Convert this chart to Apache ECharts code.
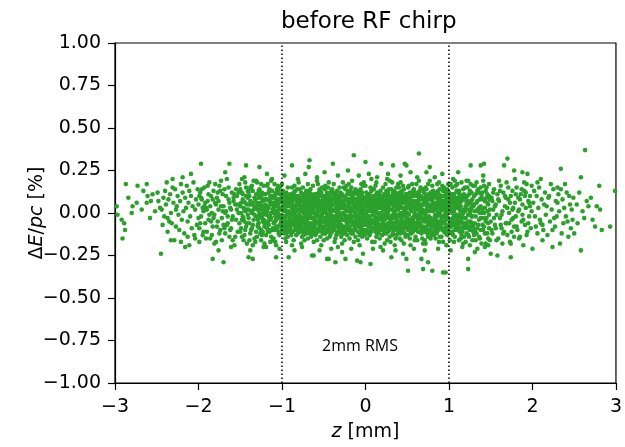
<!DOCTYPE html>
<html>
<head>
<meta charset="utf-8">
<script src="https://cdn.jsdelivr.net/npm/echarts@6/dist/echarts.min.js"></script>
<style>html,body{margin:0;padding:0;background:#fff}#chart{width:625px;height:447px}</style>
</head>
<body>
<div id="chart"></div>
<script>
// Chart values: flat lists of (z [mm], dE/pc [%]) pairs
const titleText = 'before RF chirp';
const xTicks = [-3, -2, -1, 0, 1, 2, 3];
const yTicks = [-1, -0.75, -0.5, -0.25, 0, 0.25, 0.5, 0.75, 1];
const rmsLines = [-1, 1];
const rmsLabel = '2mm RMS';

const tailFarLeft = [
-2.98,0.04, -2.87,0.17, -2.92,-0.04, -2.89,-0.06, -2.88,-0.10, -2.91,-0.15, -2.80,0.00, -2.79,0.04, -2.74,0.06, -2.73,0.16,
-2.62,0.17, -2.68,0.02, -2.62,0.06, -2.61,0.10, -2.55,0.11, -2.52,0.01, -2.97,-0.01, -2.84,0.09, -2.58,-0.03, -2.66,0.13, -2.57,0.07
];
const tailLeft = [
-2.49,0.12, -2.45,-0.24, -2.46,0.03, -2.44,0.02, -2.38,0.18, -2.37,-0.03, -2.35,-0.05, -2.37,-0.11, -2.33,-0.16, -2.29,-0.16,
-2.31,0.20, -2.27,0.02, -2.21,0.17, -2.19,0.21, -2.23,-0.10, -2.13,-0.14, -2.11,-0.19,
-2.48,0.07, -2.42,0.09, -2.41,-0.02, -2.40,0.13, -2.39,0.05, -2.36,0.08, -2.34,0.11, -2.33,0.00, -2.32,-0.06, -2.30,0.06,
-2.28,0.14, -2.27,-0.08, -2.26,0.04, -2.25,0.10, -2.24,-0.01, -2.22,0.07, -2.20,-0.04, -2.19,0.12, -2.18,0.01, -2.17,-0.12,
-2.16,0.09, -2.15,0.03, -2.14,0.16, -2.13,-0.05, -2.12,0.06, -2.11,0.13, -2.10,-0.02, -2.09,0.10, -2.08,-0.09, -2.07,0.04,
-2.06,0.18, -2.05,-0.13, -2.04,0.02, -2.03,0.08, -2.02,-0.07, -2.01,0.14, -2.00,-0.03, -2.43,-0.07, -2.21,-0.17, -2.09,0.23,
-2.16,-0.20, -2.31,0.15, -2.04,-0.15,
-2.00,0.05, -1.99,-0.09, -1.98,0.12, -1.97,-0.02, -1.96,0.08, -1.95,-0.13, -1.94,0.01, -1.93,0.15, -1.92,-0.06, -1.91,0.03,
-1.90,-0.11, -1.89,0.07, -1.88,-0.04, -1.87,0.18, -1.86,-0.15, -1.85,0.10, -1.84,0.00, -1.83,-0.08, -1.82,0.13, -1.81,-0.01,
-1.80,0.06, -1.79,-0.17, -1.78,0.09, -1.77,-0.05, -1.76,0.02, -1.75,0.16, -1.74,-0.10, -1.73,0.04, -1.72,-0.03, -1.71,0.11,
-1.70,-0.07, -1.69,0.14, -1.68,-0.12, -1.67,0.01, -1.66,0.20, -1.65,-0.06, -1.64,0.08, -1.63,-0.14, -1.62,0.03, -1.61,-0.09,
-1.60,0.12, -1.59,-0.02, -1.58,0.07, -1.57,-0.19, -1.56,0.05, -1.55,-0.04, -1.54,0.10, -1.53,-0.11, -1.52,0.00, -1.51,0.17,
-1.98,-0.06, -1.96,0.14, -1.94,-0.11, -1.92,0.06, -1.90,0.02, -1.88,0.11, -1.86,0.04, -1.84,-0.13, -1.82,-0.03, -1.80,0.17,
-1.78,-0.08, -1.76,0.07, -1.74,0.13, -1.72,-0.16, -1.70,0.04, -1.68,0.00, -1.66,-0.07, -1.64,0.15, -1.62,-0.10, -1.60,-0.04,
-1.58,0.09, -1.56,-0.14, -1.54,0.02, -1.52,0.12, -1.99,0.10, -1.95,0.03, -1.91,-0.15, -1.87,-0.01, -1.83,0.08, -1.79,0.05,
-1.75,-0.12, -1.71,0.01, -1.67,0.10, -1.63,0.06, -1.59,-0.16, -1.55,0.14, -1.51,-0.06, -1.53,0.05, -1.57,0.11, -1.61,0.02,
-1.65,-0.02, -1.69,-0.09, -1.73,0.19, -1.77,0.12, -1.81,-0.18, -1.85,-0.05, -1.89,0.16, -1.93,0.04, -1.97,0.09, -1.61,-0.20
];
const midLeft = [
-1.50,0.04, -1.49,-0.09, -1.48,0.12, -1.47,-0.02, -1.46,0.07, -1.45,-0.13, -1.44,0.01, -1.43,0.15, -1.42,-0.06, -1.41,0.09,
-1.50,-0.11, -1.49,0.06, -1.48,-0.04, -1.47,0.11, -1.46,-0.16, -1.45,0.02, -1.44,0.18, -1.43,-0.08, -1.42,0.05, -1.41,-0.01,
-1.50,0.14, -1.49,0.00, -1.48,-0.14, -1.47,0.08, -1.46,0.03, -1.45,-0.05, -1.44,-0.10, -1.43,0.10, -1.42,-0.18, -1.41,0.13,
-1.48,0.20, -1.46,-0.03, -1.44,0.06, -1.42,0.02,
-1.40,-0.03, -1.39,0.10, -1.38,-0.12, -1.37,0.05, -1.36,0.16, -1.35,-0.07, -1.34,0.02, -1.33,-0.15, -1.32,0.08, -1.31,-0.02,
-1.40,0.12, -1.39,-0.06, -1.38,0.07, -1.37,-0.10, -1.36,0.00, -1.35,0.13, -1.34,-0.04, -1.33,0.04, -1.32,-0.17, -1.31,0.11,
-1.40,0.02, -1.39,-0.16, -1.38,0.15, -1.37,0.01, -1.36,-0.09, -1.35,0.06, -1.34,0.19, -1.33,-0.01, -1.32,0.03, -1.31,-0.11,
-1.39,0.05, -1.37,0.14, -1.35,-0.19, -1.33,0.09,
-1.30,0.06, -1.29,-0.08, -1.28,0.13, -1.27,0.00, -1.26,-0.12, -1.25,0.09, -1.24,-0.03, -1.23,0.04, -1.22,0.16, -1.21,-0.06,
-1.30,-0.14, -1.29,0.11, -1.28,-0.02, -1.27,-0.09, -1.26,0.05, -1.25,-0.16, -1.24,0.12, -1.23,-0.11, -1.22,0.01, -1.21,0.08,
-1.30,0.18, -1.29,0.02, -1.28,-0.06, -1.27,0.14, -1.26,0.10, -1.25,0.03, -1.24,-0.13, -1.23,0.07, -1.22,-0.04, -1.21,-0.18,
-1.29,-0.04, -1.27,0.05, -1.25,0.17, -1.23,-0.01,
-1.20,-0.05, -1.19,0.08, -1.18,0.01, -1.17,-0.11, -1.16,0.12, -1.15,-0.03, -1.14,0.06, -1.13,-0.14, -1.12,0.10, -1.11,0.02,
-1.20,0.11, -1.19,-0.13, -1.18,0.16, -1.17,0.04, -1.16,-0.07, -1.15,0.14, -1.14,-0.01, -1.13,0.09, -1.12,-0.10, -1.11,-0.16,
-1.20,0.01, -1.19,0.03, -1.18,-0.09, -1.17,0.17, -1.16,-0.02, -1.15,0.07, -1.14,-0.17, -1.13,0.00, -1.12,0.13, -1.11,0.06,
-1.19,-0.20, -1.17,-0.05, -1.15,-0.10, -1.13,0.19,
-1.10,0.03, -1.09,-0.10, -1.08,0.09, -1.07,-0.04, -1.06,0.14, -1.05,0.00, -1.04,-0.12, -1.03,0.06, -1.02,-0.07, -1.01,0.11,
-1.10,-0.15, -1.09,0.05, -1.08,-0.02, -1.07,0.12, -1.06,-0.09, -1.05,0.16, -1.04,0.02, -1.03,-0.13, -1.02,0.08, -1.01,-0.03,
-1.10,0.10, -1.09,0.17, -1.08,-0.17, -1.07,0.01, -1.06,0.04, -1.05,-0.08, -1.04,0.13, -1.03,-0.01, -1.02,-0.11, -1.01,0.07,
-1.09,-0.05, -1.07,-0.19, -1.05,0.06, -1.03,0.15
];
const coreLeft = [
-1.00,0.03, -0.99,-0.08, -0.98,0.11, -0.97,-0.02, -0.96,0.06, -0.95,-0.12, -0.94,0.00, -0.93,0.15, -0.92,-0.05, -0.91,0.08,
-1.00,-0.04, -0.99,0.10, -0.98,-0.10, -0.97,0.03, -0.96,-0.03, -0.95,0.12, -0.94,0.05, -0.93,-0.14, -0.92,0.01, -0.91,-0.07,
-1.00,0.17, -0.99,-0.06, -0.98,0.07, -0.97,-0.09, -0.96,0.02, -0.95,-0.17, -0.94,0.09, -0.93,-0.01, -0.92,0.04, -0.91,-0.03,
-0.99,0.13, -0.97,-0.12, -0.95,0.04, -0.94,-0.07, -0.92,-0.11, -0.98,0.01, -0.96,-0.15, -0.93,0.07,
-0.90,-0.06, -0.89,0.04, -0.88,-0.11, -0.87,0.09, -0.86,0.00, -0.85,-0.03, -0.84,0.13, -0.83,-0.08, -0.82,0.06, -0.81,0.02,
-0.90,0.11, -0.89,-0.13, -0.88,0.03, -0.87,-0.01, -0.86,0.08, -0.85,0.16, -0.84,-0.05, -0.83,0.05, -0.82,-0.10, -0.81,-0.02,
-0.90,-0.02, -0.89,0.07, -0.88,0.15, -0.87,-0.07, -0.86,-0.16, -0.85,0.04, -0.84,0.01, -0.83,0.10, -0.82,-0.04, -0.81,-0.12,
-0.88,-0.19, -0.86,0.12, -0.84,-0.09, -0.82,0.14, -0.89,0.00, -0.85,-0.06, -0.83,-0.13, -0.81,0.08,
-0.80,0.05, -0.79,-0.10, -0.78,0.01, -0.77,0.12, -0.76,-0.04, -0.75,0.07, -0.74,-0.13, -0.73,0.03, -0.72,-0.07, -0.71,0.10,
-0.80,-0.01, -0.79,0.14, -0.78,-0.06, -0.77,0.04, -0.76,0.09, -0.75,-0.11, -0.74,0.00, -0.73,-0.16, -0.72,0.06, -0.71,-0.03,
-0.80,0.18, -0.79,0.02, -0.78,0.08, -0.77,-0.08, -0.76,-0.14, -0.75,0.15, -0.74,0.05, -0.73,-0.02, -0.72,0.11, -0.71,-0.09,
-0.79,-0.05, -0.77,-0.18, -0.76,0.01, -0.74,0.09, -0.72,-0.12, -0.78,-0.02, -0.75,0.03, -0.71,0.13,
-0.70,-0.09, -0.69,0.06, -0.68,-0.02, -0.67,0.13, -0.66,-0.07, -0.65,0.02, -0.64,0.10, -0.63,-0.12, -0.62,0.04, -0.61,-0.04,
-0.70,0.08, -0.69,-0.15, -0.68,0.12, -0.67,0.00, -0.66,0.05, -0.65,-0.09, -0.64,-0.03, -0.63,0.16, -0.62,-0.06, -0.61,0.09,
-0.70,0.01, -0.69,-0.01, -0.68,-0.11, -0.67,0.07, -0.66,0.14, -0.65,-0.14, -0.64,0.03, -0.63,0.06, -0.62,-0.17, -0.61,0.11,
-0.69,0.17, -0.67,-0.08, -0.66,-0.01, -0.65,0.11, -0.63,0.00, -0.68,0.05, -0.64,-0.10, -0.62,0.08,
-0.60,0.04, -0.59,-0.06, -0.58,0.09, -0.57,-0.11, -0.56,0.01, -0.55,0.14, -0.54,-0.03, -0.53,0.07, -0.52,-0.08, -0.51,0.00,
-0.60,-0.13, -0.59,0.11, -0.58,-0.01, -0.57,0.05, -0.56,-0.09, -0.55,0.03, -0.54,0.12, -0.53,-0.05, -0.52,0.15, -0.51,-0.12,
-0.60,0.07, -0.59,0.00, -0.58,-0.16, -0.57,0.17, -0.56,0.06, -0.55,-0.04, -0.54,-0.14, -0.53,0.10, -0.52,0.02, -0.51,0.08,
-0.59,-0.10, -0.57,0.02, -0.56,0.12, -0.54,0.05, -0.52,-0.02, -0.58,0.19, -0.55,-0.07, -0.53,-0.19,
-0.50,-0.05, -0.49,0.08, -0.48,0.01, -0.47,-0.10, -0.46,0.12, -0.45,-0.02, -0.44,0.05, -0.43,-0.14, -0.42,0.09, -0.41,-0.07,
-0.50,0.10, -0.49,-0.03, -0.48,-0.12, -0.47,0.04, -0.46,-0.06, -0.45,0.15, -0.44,-0.09, -0.43,0.02, -0.42,-0.01, -0.41,0.13,
-0.50,-0.16, -0.49,0.14, -0.48,0.06, -0.47,0.00, -0.46,0.03, -0.45,-0.11, -0.44,0.18, -0.43,0.07, -0.42,-0.13, -0.41,0.02,
-0.49,-0.08, -0.48,0.16, -0.46,-0.15, -0.45,0.06, -0.43,-0.04, -0.47,0.10, -0.44,-0.01, -0.42,0.04,
-0.40,0.02, -0.39,-0.09, -0.38,0.12, -0.37,-0.04, -0.36,0.06, -0.35,-0.13, -0.34,0.00, -0.33,0.09, -0.32,-0.06, -0.31,0.15,
-0.40,-0.11, -0.39,0.05, -0.38,-0.02, -0.37,0.10, -0.36,-0.15, -0.35,0.03, -0.34,0.13, -0.33,-0.08, -0.32,0.07, -0.31,-0.01,
-0.40,0.14, -0.39,0.01, -0.38,-0.07, -0.37,-0.17, -0.36,0.11, -0.35,0.08, -0.34,-0.05, -0.33,0.04, -0.32,-0.12, -0.31,0.06,
-0.39,-0.03, -0.38,0.17, -0.36,-0.08, -0.35,-0.02, -0.34,0.09, -0.33,-0.20, -0.32,0.02, -0.40,-0.06,
-0.30,-0.07, -0.29,0.10, -0.28,0.03, -0.27,-0.12, -0.26,0.07, -0.25,-0.01, -0.24,0.14, -0.23,-0.05, -0.22,0.01, -0.21,-0.10,
-0.30,0.05, -0.29,-0.14, -0.28,0.11, -0.27,0.00, -0.26,-0.04, -0.25,0.09, -0.24,-0.08, -0.23,0.16, -0.22,-0.13, -0.21,0.04,
-0.30,0.12, -0.29,-0.02, -0.28,-0.09, -0.27,0.06, -0.26,0.15, -0.25,-0.16, -0.24,0.02, -0.23,-0.03, -0.22,0.08, -0.21,0.13,
-0.29,0.04, -0.28,-0.18, -0.27,0.18, -0.26,-0.10, -0.24,-0.03, -0.23,0.08, -0.22,-0.06, -0.30,-0.02,
-0.20,0.06, -0.19,-0.03, -0.18,0.13, -0.17,-0.10, -0.16,0.02, -0.15,0.09, -0.14,-0.07, -0.13,0.04, -0.12,-0.14, -0.11,0.11,
-0.20,-0.09, -0.19,0.08, -0.18,-0.01, -0.17,0.15, -0.16,-0.05, -0.15,-0.12, -0.14,0.05, -0.13,0.12, -0.12,0.00, -0.11,-0.04,
-0.20,0.17, -0.19,-0.15, -0.18,0.03, -0.17,0.07, -0.16,0.10, -0.15,0.01, -0.14,-0.17, -0.13,-0.08, -0.12,0.14, -0.11,-0.01,
-0.19,0.01, -0.18,-0.11, -0.17,-0.04, -0.16,0.19, -0.14,0.08, -0.13,-0.02, -0.12,-0.07, -0.11,0.05,
-0.10,-0.02, -0.09,0.11, -0.08,-0.08, -0.07,0.04, -0.06,0.14, -0.05,-0.11, -0.04,0.01, -0.03,0.07, -0.02,-0.05, -0.01,0.09,
-0.10,0.13, -0.09,-0.06, -0.08,0.05, -0.07,-0.13, -0.06,0.00, -0.05,0.08, -0.04,-0.03, -0.03,0.16, -0.02,0.03, -0.01,-0.10,
-0.10,0.03, -0.09,-0.16, -0.08,0.12, -0.07,0.10, -0.06,-0.09, -0.05,0.02, -0.04,-0.14, -0.03,-0.01, -0.02,0.18, -0.01,0.06,
-0.09,0.02, -0.08,-0.04, -0.07,-0.19, -0.06,0.07, -0.05,0.17, -0.04,0.10, -0.03,-0.07, -0.02,-0.12
];
const coreRight = [
0.00,0.04, 0.01,-0.07, 0.02,0.10, 0.03,-0.02, 0.04,0.07, 0.05,-0.13, 0.06,0.01, 0.07,0.13, 0.08,-0.05, 0.09,0.03,
0.00,-0.10, 0.01,0.12, 0.02,-0.03, 0.03,0.06, 0.04,-0.08, 0.05,0.02, 0.06,0.15, 0.07,-0.11, 0.08,0.08, 0.09,-0.01,
0.00,0.16, 0.01,0.00, 0.02,-0.15, 0.03,0.09, 0.04,0.03, 0.05,0.11, 0.06,-0.06, 0.07,0.05, 0.08,-0.17, 0.09,0.14,
0.01,-0.04, 0.02,0.05, 0.03,-0.12, 0.05,-0.06, 0.06,-0.10, 0.07,0.20, 0.08,0.01, 0.09,-0.09,
0.10,-0.06, 0.11,0.08, 0.12,-0.11, 0.13,0.02, 0.14,0.12, 0.15,-0.03, 0.16,0.06, 0.17,-0.09, 0.18,0.00, 0.19,0.10,
0.10,0.14, 0.11,-0.02, 0.12,0.04, 0.13,-0.14, 0.14,-0.05, 0.15,0.09, 0.16,-0.12, 0.17,0.03, 0.18,0.13, 0.19,-0.07,
0.10,0.01, 0.11,-0.17, 0.12,0.16, 0.13,0.07, 0.14,0.00, 0.15,-0.08, 0.16,0.11, 0.17,-0.15, 0.18,0.05, 0.19,-0.01,
0.11,0.05, 0.12,-0.04, 0.13,0.18, 0.14,-0.10, 0.16,-0.02, 0.17,0.08, 0.18,-0.20, 0.19,0.04,
0.20,0.03, 0.21,-0.09, 0.22,0.11, 0.23,-0.04, 0.24,0.05, 0.25,-0.12, 0.26,0.08, 0.27,0.00, 0.28,0.14, 0.29,-0.06,
0.20,-0.13, 0.21,0.06, 0.22,-0.01, 0.23,0.10, 0.24,-0.07, 0.25,0.02, 0.26,-0.16, 0.27,0.12, 0.28,-0.03, 0.29,0.07,
0.20,0.09, 0.21,0.15, 0.22,-0.10, 0.23,0.01, 0.24,0.17, 0.25,0.06, 0.26,-0.02, 0.27,-0.11, 0.28,0.04, 0.29,-0.14,
0.20,-0.03, 0.22,0.03, 0.23,-0.18, 0.24,-0.01, 0.25,0.13, 0.26,0.04, 0.27,-0.06, 0.29,0.19,
0.30,-0.04, 0.31,0.07, 0.32,-0.13, 0.33,0.12, 0.34,0.00, 0.35,-0.07, 0.36,0.04, 0.37,0.15, 0.38,-0.10, 0.39,0.02,
0.30,0.10, 0.31,-0.02, 0.32,0.06, 0.33,-0.09, 0.34,0.13, 0.35,0.01, 0.36,-0.15, 0.37,-0.04, 0.38,0.08, 0.39,-0.12,
0.30,-0.17, 0.31,0.14, 0.32,0.02, 0.33,-0.01, 0.34,-0.06, 0.35,0.11, 0.36,0.09, 0.37,-0.13, 0.38,-0.01, 0.39,0.17,
0.31,-0.08, 0.32,0.18, 0.33,0.05, 0.35,-0.19, 0.36,-0.02, 0.37,0.06, 0.38,0.11, 0.39,-0.05,
0.40,0.05, 0.41,-0.10, 0.42,0.09, 0.43,-0.03, 0.44,0.13, 0.45,-0.06, 0.46,0.01, 0.47,0.10, 0.48,-0.14, 0.49,0.04,
0.40,-0.08, 0.41,0.03, 0.42,-0.12, 0.43,0.07, 0.44,-0.01, 0.45,0.16, 0.46,-0.05, 0.47,0.02, 0.48,0.11, 0.49,-0.09,
0.40,0.15, 0.41,0.12, 0.42,0.00, 0.43,-0.16, 0.44,0.06, 0.45,-0.02, 0.46,0.14, 0.47,-0.08, 0.48,0.03, 0.49,0.08,
0.40,-0.02, 0.41,-0.15, 0.42,0.18, 0.44,-0.11, 0.45,0.08, 0.46,-0.18, 0.47,-0.01, 0.48,0.07,
0.50,-0.03, 0.51,0.08, 0.52,-0.08, 0.53,0.12, 0.54,0.02, 0.55,-0.12, 0.56,0.06, 0.57,-0.04, 0.58,0.14, 0.59,0.00,
0.50,0.11, 0.51,-0.05, 0.52,0.04, 0.53,-0.15, 0.54,0.09, 0.55,0.01, 0.56,-0.09, 0.57,0.13, 0.58,-0.02, 0.59,0.07,
0.50,0.00, 0.51,-0.13, 0.52,0.16, 0.53,0.05, 0.54,-0.07, 0.55,0.10, 0.56,0.17, 0.57,-0.11, 0.58,0.04, 0.59,-0.16,
0.50,0.06, 0.51,0.15, 0.52,-0.01, 0.54,-0.19, 0.55,-0.05, 0.57,0.03, 0.58,-0.10, 0.59,0.12,
0.60,0.07, 0.61,-0.06, 0.62,0.10, 0.63,-0.11, 0.64,0.03, 0.65,0.13, 0.66,-0.02, 0.67,0.05, 0.68,-0.09, 0.69,0.01,
0.60,-0.14, 0.61,0.11, 0.62,-0.03, 0.63,0.06, 0.64,-0.08, 0.65,0.00, 0.66,0.15, 0.67,-0.12, 0.68,0.08, 0.69,-0.04,
0.60,0.02, 0.61,0.17, 0.62,-0.16, 0.63,0.12, 0.64,0.09, 0.65,-0.06, 0.66,0.04, 0.67,-0.01, 0.68,-0.15, 0.69,0.14,
0.61,-0.01, 0.62,0.05, 0.63,-0.05, 0.64,0.19, 0.66,-0.11, 0.67,0.09, 0.68,0.02, 0.69,-0.18,
0.70,-0.05, 0.71,0.09, 0.72,-0.01, 0.73,0.14, 0.74,-0.10, 0.75,0.04, 0.76,0.11, 0.77,-0.07, 0.78,0.02, 0.79,-0.13,
0.70,0.12, 0.71,-0.03, 0.72,0.07, 0.73,-0.09, 0.74,0.01, 0.75,-0.14, 0.76,0.05, 0.77,0.10, 0.78,-0.06, 0.79,0.03,
0.70,0.00, 0.71,-0.16, 0.72,0.15, 0.73,0.06, 0.74,-0.04, 0.75,0.17, 0.76,-0.11, 0.77,0.01, 0.78,0.12, 0.79,0.08,
0.70,-0.10, 0.72,-0.18, 0.73,0.02, 0.74,0.08, 0.76,-0.02, 0.77,0.19, 0.78,-0.15, 0.79,-0.04,
0.80,0.03, 0.81,-0.08, 0.82,0.12, 0.83,-0.02, 0.84,0.06, 0.85,-0.12, 0.86,0.09, 0.87,0.00, 0.88,-0.05, 0.89,0.14,
0.80,-0.11, 0.81,0.05, 0.82,-0.04, 0.83,0.10, 0.84,-0.15, 0.85,0.02, 0.86,-0.08, 0.87,0.13, 0.88,0.07, 0.89,-0.01,
0.80,0.16, 0.81,0.01, 0.82,-0.13, 0.83,0.04, 0.84,0.11, 0.85,-0.06, 0.86,0.17, 0.87,-0.10, 0.88,-0.17, 0.89,0.06,
0.81,0.13, 0.82,0.02, 0.83,-0.07, 0.84,-0.01, 0.86,-0.02, 0.87,0.08, 0.88,0.18, 0.89,-0.14,
0.90,-0.06, 0.91,0.10, 0.92,-0.02, 0.93,0.05, 0.94,-0.11, 0.95,0.13, 0.96,0.01, 0.97,-0.08, 0.98,0.08, 0.99,-0.03,
0.90,0.09, 0.91,-0.14, 0.92,0.04, 0.93,-0.06, 0.94,0.15, 0.95,-0.01, 0.96,-0.12, 0.97,0.11, 0.98,0.00, 0.99,0.06,
0.90,0.01, 0.91,0.03, 0.92,0.16, 0.93,-0.17, 0.94,0.07, 0.95,-0.09, 0.96,0.12, 0.97,0.02, 0.98,-0.13, 0.99,0.17,
0.91,-0.05, 0.92,-0.10, 0.93,0.13, 0.95,0.06, 0.96,-0.04, 0.97,-0.19, 0.98,0.14, 0.99,-0.09
];
const coreDense = [
-0.90,0.05, -0.90,-0.09, -0.89,0.10, -0.89,-0.04, -0.88,0.06, -0.88,-0.07, -0.87,0.02, -0.87,-0.11, -0.86,0.11, -0.86,-0.05,
-0.85,0.08, -0.85,-0.01, -0.84,0.03, -0.84,-0.10, -0.83,0.01, -0.83,-0.04, -0.82,0.09, -0.82,-0.08, -0.81,0.05, -0.81,-0.06,
-0.80,0.10, -0.80,-0.08, -0.79,0.06, -0.79,-0.02, -0.78,0.04, -0.78,-0.11, -0.77,0.08, -0.77,-0.04, -0.76,0.03, -0.76,-0.09,
-0.75,0.11, -0.75,-0.06, -0.74,0.02, -0.74,-0.03, -0.73,0.07, -0.73,-0.10, -0.72,0.00, -0.72,-0.05, -0.71,0.05, -0.71,-0.12,
-0.70,0.11, -0.70,-0.04, -0.69,0.03, -0.69,-0.08, -0.68,0.09, -0.68,-0.06, -0.67,0.04, -0.67,-0.12, -0.66,0.09, -0.66,-0.03,
-0.65,0.07, -0.65,-0.06, -0.64,0.01, -0.64,-0.07, -0.63,0.10, -0.63,-0.03, -0.62,0.02, -0.62,-0.10, -0.61,0.06, -0.61,-0.08,
-0.60,0.10, -0.60,-0.02, -0.59,0.06, -0.59,-0.12, -0.58,0.04, -0.58,-0.05, -0.57,0.08, -0.57,-0.02, -0.56,0.10, -0.56,-0.06,
-0.55,0.07, -0.55,-0.10, -0.54,0.02, -0.54,-0.07, -0.53,0.12, -0.53,-0.01, -0.52,0.05, -0.52,-0.11, -0.51,0.10, -0.51,-0.05,
-0.50,0.04, -0.50,-0.09, -0.49,0.02, -0.49,-0.12, -0.48,0.10, -0.48,-0.04, -0.47,0.07, -0.47,-0.06, -0.46,0.08, -0.46,-0.01,
-0.45,0.03, -0.45,-0.07, -0.44,0.11, -0.44,-0.04, -0.43,0.09, -0.43,-0.10, -0.42,0.01, -0.42,-0.06, -0.41,0.06, -0.41,-0.11,
-0.40,0.08, -0.40,-0.02, -0.39,0.11, -0.39,-0.05, -0.38,0.05, -0.38,-0.10, -0.37,0.02, -0.37,-0.07, -0.36,0.08, -0.36,-0.03,
-0.35,0.11, -0.35,-0.08, -0.34,0.06, -0.34,-0.11, -0.33,0.01, -0.33,-0.03, -0.32,0.10, -0.32,-0.09, -0.31,0.03, -0.31,-0.05,
-0.30,0.08, -0.30,-0.11, -0.29,0.06, -0.29,-0.07, -0.28,0.00, -0.28,-0.04, -0.27,0.10, -0.27,-0.08, -0.26,0.03, -0.26,-0.12,
-0.25,0.05, -0.25,-0.04, -0.24,0.09, -0.24,-0.11, -0.23,0.02, -0.23,-0.09, -0.22,0.11, -0.22,-0.02, -0.21,0.07, -0.21,-0.06,
-0.20,0.11, -0.20,-0.05, -0.19,0.04, -0.19,-0.08, -0.18,0.07, -0.18,-0.05, -0.17,0.01, -0.17,-0.12, -0.16,0.06, -0.16,-0.02,
-0.15,0.12, -0.15,-0.07, -0.14,0.02, -0.14,-0.10, -0.13,0.08, -0.13,-0.05, -0.12,0.05, -0.12,-0.10, -0.11,0.08, -0.11,-0.08,
-0.10,0.07, -0.10,-0.07, -0.09,0.05, -0.09,-0.11, -0.08,0.09, -0.08,-0.02, -0.07,0.01, -0.07,-0.06, -0.06,0.10, -0.06,-0.04,
-0.05,0.05, -0.05,-0.08, -0.04,0.12, -0.04,-0.06, -0.03,0.03, -0.03,-0.10, -0.02,0.09, -0.02,-0.02, -0.01,0.02, -0.01,-0.13,
0.00,0.08, 0.00,-0.05, 0.01,0.06, 0.01,-0.10, 0.02,0.01, 0.02,-0.07, 0.03,0.11, 0.03,-0.05, 0.04,0.10, 0.04,-0.11,
0.05,0.07, 0.05,-0.02, 0.06,0.04, 0.06,-0.08, 0.07,0.09, 0.07,-0.04, 0.08,0.03, 0.08,-0.09, 0.09,0.07, 0.09,-0.05,
0.10,0.10, 0.10,-0.09, 0.11,0.03, 0.11,-0.05, 0.12,0.08, 0.12,-0.07, 0.13,0.11, 0.13,-0.04, 0.14,0.05, 0.14,-0.12,
0.15,0.03, 0.15,-0.06, 0.16,0.09, 0.16,-0.07, 0.17,0.06, 0.17,-0.03, 0.18,0.09, 0.18,-0.10, 0.19,0.07, 0.19,-0.04,
0.20,0.06, 0.20,-0.07, 0.21,0.02, 0.21,-0.05, 0.22,0.07, 0.22,-0.12, 0.23,0.05, 0.23,-0.08, 0.24,0.11, 0.24,-0.03,
0.25,0.09, 0.25,-0.07, 0.26,0.11, 0.26,-0.09, 0.27,0.05, 0.27,-0.02, 0.28,0.09, 0.28,-0.08, 0.29,0.02, 0.29,-0.10,
0.30,0.06, 0.30,-0.09, 0.31,0.10, 0.31,-0.05, 0.32,0.09, 0.32,-0.03, 0.33,0.08, 0.33,-0.12, 0.34,0.04, 0.34,-0.10,
0.35,0.07, 0.35,-0.03, 0.36,0.12, 0.36,-0.07, 0.37,0.02, 0.37,-0.09, 0.38,0.05, 0.38,-0.05, 0.39,0.09, 0.39,-0.08,
0.40,0.10, 0.40,-0.05, 0.41,0.07, 0.41,-0.06, 0.42,0.04, 0.42,-0.08, 0.43,0.11, 0.43,-0.09, 0.44,0.09, 0.44,-0.05,
0.45,0.03, 0.45,-0.11, 0.46,0.07, 0.46,-0.09, 0.47,0.06, 0.47,-0.12, 0.48,0.01, 0.48,-0.06, 0.49,0.11, 0.49,-0.04,
0.50,0.09, 0.50,-0.08, 0.51,0.03, 0.51,-0.10, 0.52,0.08, 0.52,-0.04, 0.53,0.09, 0.53,-0.06, 0.54,0.05, 0.54,-0.11,
0.55,0.06, 0.55,-0.08, 0.56,0.11, 0.56,-0.03, 0.57,0.07, 0.57,-0.07, 0.58,0.10, 0.58,-0.06, 0.59,0.04, 0.59,-0.09,
0.60,0.11, 0.60,-0.06, 0.61,0.05, 0.61,-0.10, 0.62,0.07, 0.62,-0.08, 0.63,0.02, 0.63,-0.02, 0.64,0.12, 0.64,-0.11,
0.65,0.08, 0.65,-0.03, 0.66,0.10, 0.66,-0.07, 0.67,0.02, 0.67,-0.09, 0.68,0.05, 0.68,-0.04, 0.69,0.09, 0.69,-0.10,
0.70,0.05, 0.70,-0.08, 0.71,0.06, 0.71,-0.11, 0.72,0.11, 0.72,-0.05, 0.73,0.09, 0.73,-0.03, 0.74,0.04, 0.74,-0.12,
0.75,0.09, 0.75,-0.07, 0.76,0.08, 0.76,-0.05, 0.77,0.04, 0.77,-0.10, 0.78,0.09, 0.78,-0.03, 0.79,0.11, 0.79,-0.08,
0.80,0.07, 0.80,-0.05, 0.81,0.09, 0.81,-0.11, 0.82,0.05, 0.82,-0.07, 0.83,0.12, 0.83,-0.10, 0.84,0.02, 0.84,-0.04,
0.85,0.09, 0.85,-0.09, 0.86,0.05, 0.86,-0.11, 0.87,0.04, 0.87,-0.06, 0.88,0.11, 0.88,-0.09, 0.89,0.03, 0.89,-0.07
];
const coreEdges = [
-1.30,0.04, -1.29,-0.07, -1.28,0.09, -1.27,-0.02, -1.26,0.06, -1.25,-0.10, -1.24,0.02, -1.23,-0.05, -1.22,0.11, -1.21,-0.08,
-1.20,0.05, -1.19,-0.01, -1.18,0.08, -1.17,-0.06, -1.16,0.03, -1.15,-0.11, -1.14,0.10, -1.13,-0.03, -1.12,0.06, -1.11,-0.09,
-1.10,0.01, -1.09,0.09, -1.08,-0.05, -1.07,0.07, -1.06,-0.10, -1.05,0.04, -1.04,-0.02, -1.03,0.11, -1.02,-0.07, -1.01,0.02,
-1.00,-0.09, -0.99,0.06, -0.98,-0.04, -0.97,0.10, -0.96,-0.11, -0.95,0.01, -0.94,-0.06, -0.93,0.09, -0.92,-0.01, -0.91,0.05,
-1.15,0.07, -1.14,-0.04, -1.13,0.05, -1.12,-0.10, -1.11,0.09, -1.10,-0.06, -1.09,0.00, -1.08,0.11, -1.07,-0.08, -1.06,0.06,
-1.05,-0.03, -1.04,0.08, -1.03,-0.11, -1.02,0.03, -1.01,-0.05, -1.00,0.10, -0.99,-0.02, -0.98,0.04, -0.97,-0.07, -0.96,0.08,
-0.95,-0.05, -0.94,0.11, -0.93,-0.09, -0.92,0.07, -0.91,-0.10,
0.90,0.06, 0.91,-0.03, 0.92,0.10, 0.93,-0.10, 0.94,0.02, 0.95,-0.06, 0.96,0.08, 0.97,-0.01, 0.98,0.05, 0.99,-0.11,
1.00,0.08, 1.01,-0.05, 1.02,0.02, 1.03,-0.08, 1.04,0.11, 1.05,-0.03, 1.06,0.06, 1.07,-0.10, 1.08,0.03, 1.09,-0.06,
1.10,0.09, 1.11,-0.01, 1.12,0.07, 1.13,-0.11, 1.14,0.01, 1.15,-0.05, 1.16,0.08, 1.17,-0.08, 1.18,0.11, 1.19,-0.03,
1.20,0.04, 1.21,-0.07, 1.22,0.10, 1.23,-0.05, 1.24,0.02, 1.25,-0.10, 1.26,0.07, 1.27,-0.02, 1.28,0.05, 1.29,-0.08,
0.90,-0.08, 0.91,0.07, 0.92,-0.05, 0.93,0.10, 0.94,-0.09, 0.95,0.04, 0.96,-0.02, 0.97,0.09, 0.98,-0.10, 0.99,0.03,
1.00,-0.07, 1.01,0.11, 1.02,-0.04, 1.03,0.06, 1.04,-0.11, 1.05,0.07, 1.06,-0.02, 1.07,0.09, 1.08,-0.08, 1.09,0.04,
1.10,-0.04, 1.11,0.08, 1.12,-0.09, 1.13,0.02, 1.14,-0.06
];
const midRight = [
1.00,-0.04, 1.01,0.09, 1.02,-0.11, 1.03,0.03, 1.04,0.15, 1.05,-0.06, 1.06,0.01, 1.07,-0.14, 1.08,0.07, 1.09,-0.01,
1.00,0.12, 1.01,-0.08, 1.02,0.05, 1.03,-0.12, 1.04,0.00, 1.05,0.10, 1.06,-0.17, 1.07,0.04, 1.08,-0.05, 1.09,0.13,
1.00,0.01, 1.01,-0.16, 1.02,0.17, 1.03,0.08, 1.04,-0.07, 1.05,0.02, 1.06,0.11, 1.07,-0.02, 1.08,0.16, 1.09,-0.10,
1.01,0.05, 1.03,-0.04, 1.05,-0.13, 1.07,0.19,
1.10,0.06, 1.11,-0.07, 1.12,0.13, 1.13,-0.02, 1.14,0.04, 1.15,-0.13, 1.16,0.10, 1.17,0.00, 1.18,-0.09, 1.19,0.15,
1.10,-0.10, 1.11,0.03, 1.12,-0.05, 1.13,0.11, 1.14,-0.15, 1.15,0.07, 1.16,-0.01, 1.17,0.14, 1.18,0.02, 1.19,-0.06,
1.10,0.17, 1.11,0.12, 1.12,-0.16, 1.13,0.05, 1.14,0.09, 1.15,-0.03, 1.16,-0.11, 1.17,-0.18, 1.18,0.08, 1.19,0.01,
1.11,-0.02, 1.13,-0.09, 1.15,0.18, 1.18,-0.14,
1.20,-0.03, 1.21,0.10, 1.22,-0.09, 1.23,0.05, 1.24,-0.14, 1.25,0.13, 1.26,0.01, 1.27,-0.06, 1.28,0.08, 1.29,-0.11,
1.20,0.09, 1.21,-0.12, 1.22,0.15, 1.23,-0.01, 1.24,0.06, 1.25,-0.08, 1.26,0.17, 1.27,0.03, 1.28,-0.16, 1.29,0.04,
1.20,-0.17, 1.21,0.02, 1.22,0.07, 1.23,-0.13, 1.24,0.11, 1.25,0.00, 1.26,-0.05, 1.27,0.12, 1.28,-0.02, 1.29,0.16,
1.21,0.06, 1.23,0.19, 1.25,-0.19, 1.27,-0.09,
1.30,0.05, 1.31,-0.06, 1.32,0.11, 1.33,-0.12, 1.34,0.02, 1.35,0.14, 1.36,-0.04, 1.37,0.08, 1.38,-0.10, 1.39,0.00,
1.30,-0.13, 1.31,0.16, 1.32,-0.02, 1.33,0.06, 1.34,-0.09, 1.35,0.01, 1.36,0.12, 1.37,-0.15, 1.38,0.04, 1.39,0.10,
1.30,0.10, 1.31,0.01, 1.32,-0.16, 1.33,0.18, 1.34,0.07, 1.35,-0.07, 1.36,0.03, 1.37,0.00, 1.38,0.15, 1.39,-0.18,
1.31,-0.10, 1.34,0.13, 1.36,-0.14, 1.38,-0.03,
1.40,-0.07, 1.41,0.08, 1.42,0.00, 1.43,-0.12, 1.44,0.13, 1.45,-0.03, 1.46,0.06, 1.47,-0.15, 1.48,0.10, 1.49,0.02,
1.40,0.12, 1.41,-0.10, 1.42,0.16, 1.43,0.03, 1.44,-0.05, 1.45,0.09, 1.46,-0.12, 1.47,0.05, 1.48,-0.01, 1.49,-0.16,
1.40,0.02, 1.41,0.19, 1.42,-0.08, 1.43,0.07, 1.44,-0.18, 1.45,0.15, 1.46,0.01, 1.47,-0.06, 1.48,0.17, 1.49,0.08,
1.41,-0.03, 1.43,-0.20, 1.46,0.11, 1.48,-0.09
];
const tailRight = [
1.50,-0.05, 1.51,0.09, 1.52,-0.12, 1.53,0.02, 1.54,0.14, 1.55,-0.07, 1.56,0.05, 1.57,-0.01, 1.58,0.11, 1.59,-0.15,
1.60,0.07, 1.61,-0.03, 1.62,0.16, 1.63,-0.09, 1.64,0.01, 1.65,0.12, 1.66,-0.11, 1.67,0.04, 1.68,-0.06, 1.69,0.18,
1.70,-0.13, 1.71,0.08, 1.72,0.00, 1.73,-0.17, 1.74,0.10, 1.75,-0.04, 1.76,0.13, 1.77,0.03, 1.78,-0.08, 1.79,0.06,
1.80,-0.02, 1.81,0.15, 1.82,-0.10, 1.83,0.09, 1.84,0.02, 1.85,-0.14, 1.86,0.11, 1.87,-0.05, 1.88,0.05, 1.89,-0.19,
1.90,0.13, 1.91,-0.07, 1.92,0.03, 1.93,0.17, 1.94,-0.11, 1.95,0.07, 1.96,-0.02, 1.97,0.10, 1.98,-0.09, 1.99,0.01,
1.51,-0.10, 1.53,0.12, 1.55,0.04, 1.57,-0.16, 1.59,0.08, 1.61,0.13, 1.63,-0.01, 1.65,-0.12, 1.67,0.10, 1.69,-0.06,
1.71,0.15, 1.73,0.06, 1.75,-0.11, 1.77,-0.03, 1.79,0.20, 1.81,-0.08, 1.83,0.01, 1.85,0.08, 1.87,0.14, 1.89,-0.04,
1.91,0.10, 1.93,-0.13, 1.95,-0.06, 1.97,0.04, 1.99,0.16, 1.52,0.07, 1.56,-0.09, 1.60,0.19, 1.64,-0.18, 1.68,0.09,
1.72,-0.06, 1.76,0.02, 1.80,0.11, 1.84,-0.15, 1.88,-0.01, 1.92,0.12, 1.96,0.06, 1.54,-0.03, 1.62,-0.07, 1.70,0.03,
2.00,-0.21, 2.04,-0.08, 2.02,0.13, 1.94,0.23, 1.90,0.18, 1.88,0.24, 2.10,0.20, 2.10,-0.06, 2.12,-0.16, 2.14,0.05,
2.20,0.10, 2.22,0.17, 2.24,-0.20, 2.24,-0.10, 2.26,-0.03, 2.30,0.15, 2.30,0.06, 2.33,-0.18, 2.34,0.26, 2.34,0.14,
2.40,-0.02, 2.42,-0.05, 2.44,0.10, 2.46,-0.09,
2.01,0.06, 2.03,-0.02, 2.05,0.10, 2.06,-0.12, 2.07,0.03, 2.08,0.15, 2.09,-0.04, 2.11,0.08, 2.13,-0.10, 2.15,0.12,
2.16,-0.01, 2.17,0.04, 2.18,-0.13, 2.19,0.09, 2.21,-0.05, 2.23,0.02, 2.25,0.14, 2.27,-0.08, 2.28,0.07, 2.29,-0.02,
2.31,0.11, 2.32,0.01, 2.35,-0.12, 2.36,0.08, 2.37,-0.06, 2.38,0.03, 2.39,0.17, 2.41,0.12, 2.43,-0.14, 2.45,0.05,
2.47,0.02, 2.48,-0.04, 2.49,0.09, 2.06,0.18, 2.12,-0.07
];
const tailFarRight = [
2.50,-0.12, 2.56,0.12, 2.58,0.21, 2.58,-0.22, 2.60,0.01, 2.65,0.07, 2.67,0.04, 2.63,0.37, 2.75,-0.08, 2.77,0.04,
2.80,0.16, 2.81,0.02, 2.83,-0.10, 2.93,-0.08, 2.99,0.13, 2.53,0.05, 2.54,-0.06, 2.62,-0.03, 2.70,0.09, 2.72,-0.04
];
const haloPoints = [
-1.97,0.29, -1.99,-0.17, -1.83,-0.27, -1.70,-0.29, -1.63,0.29, -1.68,0.24, -1.76,-0.22,
-1.43,0.28, -1.40,-0.26, -1.35,-0.27, -1.27,0.27, -1.07,-0.26, -0.88,0.28, -0.92,-0.26, -0.68,0.27, -0.67,0.31,
-0.62,-0.25, -0.64,-0.25, -0.44,-0.27, -0.36,-0.29, -0.24,-0.27, -0.14,0.34, -0.39,0.29, -0.46,-0.27, -0.10,-0.28,
0.06,-0.30, 0.00,0.30, 0.47,0.29, 0.64,0.35, 0.51,-0.34, 0.69,-0.33, 0.80,-0.34, 0.93,-0.35, 1.23,-0.33, 1.26,0.28,
0.77,0.27, 0.27,0.23, 0.31,-0.26, 0.49,-0.27, 0.67,-0.27, -0.06,-0.29, 0.49,0.28, 0.33,0.28, 0.19,0.29, 0.75,-0.29,
0.96,-0.35, 1.38,0.28, 1.42,0.29, 1.31,-0.23, 1.23,-0.27, 1.50,-0.24, 1.58,-0.25, 1.66,0.28, 1.70,0.32, 1.78,0.25,
1.74,-0.18, 1.74,-0.26, 1.78,-0.14,
-1.45,0.21, -1.38,-0.22, -1.31,0.19, -1.22,-0.20, -1.18,0.23, -1.12,0.20, -1.03,-0.21, -0.97,0.22, -0.85,-0.22,
-0.81,0.20, -0.76,-0.20, -0.72,0.23, -0.58,0.21, -0.55,-0.22, -0.49,0.24, -0.41,-0.21, -0.33,0.22, -0.28,-0.23,
-0.21,0.25, -0.17,-0.21, -0.08,0.22, -0.03,-0.24, 0.04,0.23, 0.09,-0.21, 0.14,0.21, 0.21,-0.22, 0.26,0.20,
0.36,-0.22, 0.42,0.22, 0.45,-0.24, 0.54,0.24, 0.58,-0.21, 0.62,0.21, 0.71,-0.22, 0.73,0.24, 0.83,0.21, 0.87,-0.21,
0.92,0.23, 1.02,-0.22, 1.05,0.20, 1.11,0.24, 1.16,-0.20, 1.21,0.19, 1.34,-0.21, 1.41,0.22, 1.47,-0.19
];

function toPairs(flat) {
  const out = [];
  for (let i = 0; i + 1 < flat.length; i += 2) out.push([flat[i], flat[i + 1]]);
  return out;
}
const allPoints = [].concat(
  toPairs(tailFarLeft), toPairs(tailLeft), toPairs(midLeft), toPairs(coreLeft), toPairs(coreDense), toPairs(coreEdges),
  toPairs(coreRight), toPairs(midRight), toPairs(tailRight), toPairs(tailFarRight), toPairs(haloPoints)
);

const minus = s => String(s).replace('-', '\u2212');
const FONT = 'DejaVu Sans';

const chart = echarts.init(document.getElementById('chart'), null, { renderer: 'canvas' });
const series = [{
  type: 'scatter',
  data: allPoints,
  symbol: 'circle',
  symbolSize: 4.6,
  itemStyle: { color: '#2ca02c', opacity: 1 },
  silent: true,
  z: 2
}];
rmsLines.forEach(x => {
  series.push({
    type: 'line',
    data: [[x, yTicks[0]], [x, yTicks[yTicks.length - 1]]],
    showSymbol: false,
    symbol: 'none',
    lineStyle: { color: '#000', width: 1.5, type: [1.5, 2.5] },
    silent: true,
    z: 5
  });
});

chart.setOption({
  animation: false,
  backgroundColor: '#fff',
  title: {
    text: titleText,
    left: 276,
    top: 6,
    textStyle: { fontFamily: FONT, fontSize: 23, fontWeight: 'normal', color: '#000' }
  },
  grid: { left: 115, right: 6, top: 43, bottom: 64, show: true, borderColor: '#000', borderWidth: 1.2, backgroundColor: 'transparent' },
  xAxis: {
    type: 'value',
    min: xTicks[0], max: xTicks[xTicks.length - 1], interval: 1,
    name: '{i|z}{d| [mm]}',
    nameLocation: 'middle',
    nameGap: 40,
    nameTextStyle: {
      rich: {
        i: { fontFamily: FONT, fontSize: 19, fontStyle: 'italic', color: '#000' },
        d: { fontFamily: FONT, fontSize: 19, color: '#000' }
      }
    },
    axisLine: { show: true, onZero: false, lineStyle: { color: '#000', width: 1.2 } },
    axisTick: { show: true, length: 7, lineStyle: { color: '#000', width: 1.2 } },
    axisLabel: { fontFamily: FONT, fontSize: 19, color: '#000', margin: 15, formatter: v => minus(v) },
    splitLine: { show: false }
  },
  yAxis: {
    type: 'value',
    min: yTicks[0], max: yTicks[yTicks.length - 1], interval: 0.25,
    name: '{d|\u0394}{i|E}{d|/}{i|pc}{d| [%]}',
    nameLocation: 'middle',
    nameGap: 68,
    nameMoveOverlap: false,
    nameTextStyle: {
      rich: {
        i: { fontFamily: FONT, fontSize: 19, fontStyle: 'italic', color: '#000' },
        d: { fontFamily: FONT, fontSize: 19, color: '#000' }
      }
    },
    axisLine: { show: true, onZero: false, lineStyle: { color: '#000', width: 1.2 } },
    axisTick: { show: true, length: 7, lineStyle: { color: '#000', width: 1.2 } },
    axisLabel: { fontFamily: FONT, fontSize: 19, color: '#000', margin: 14, formatter: v => minus(v.toFixed(2)) },
    splitLine: { show: false }
  },
  graphic: [{
    type: 'text',
    left: 322,
    top: 338,
    style: { text: rmsLabel, fontFamily: 'Open Sans', fontSize: 16, fill: '#000' },
    silent: true
  }],
  series: series
});
</script>
</body>
</html>
